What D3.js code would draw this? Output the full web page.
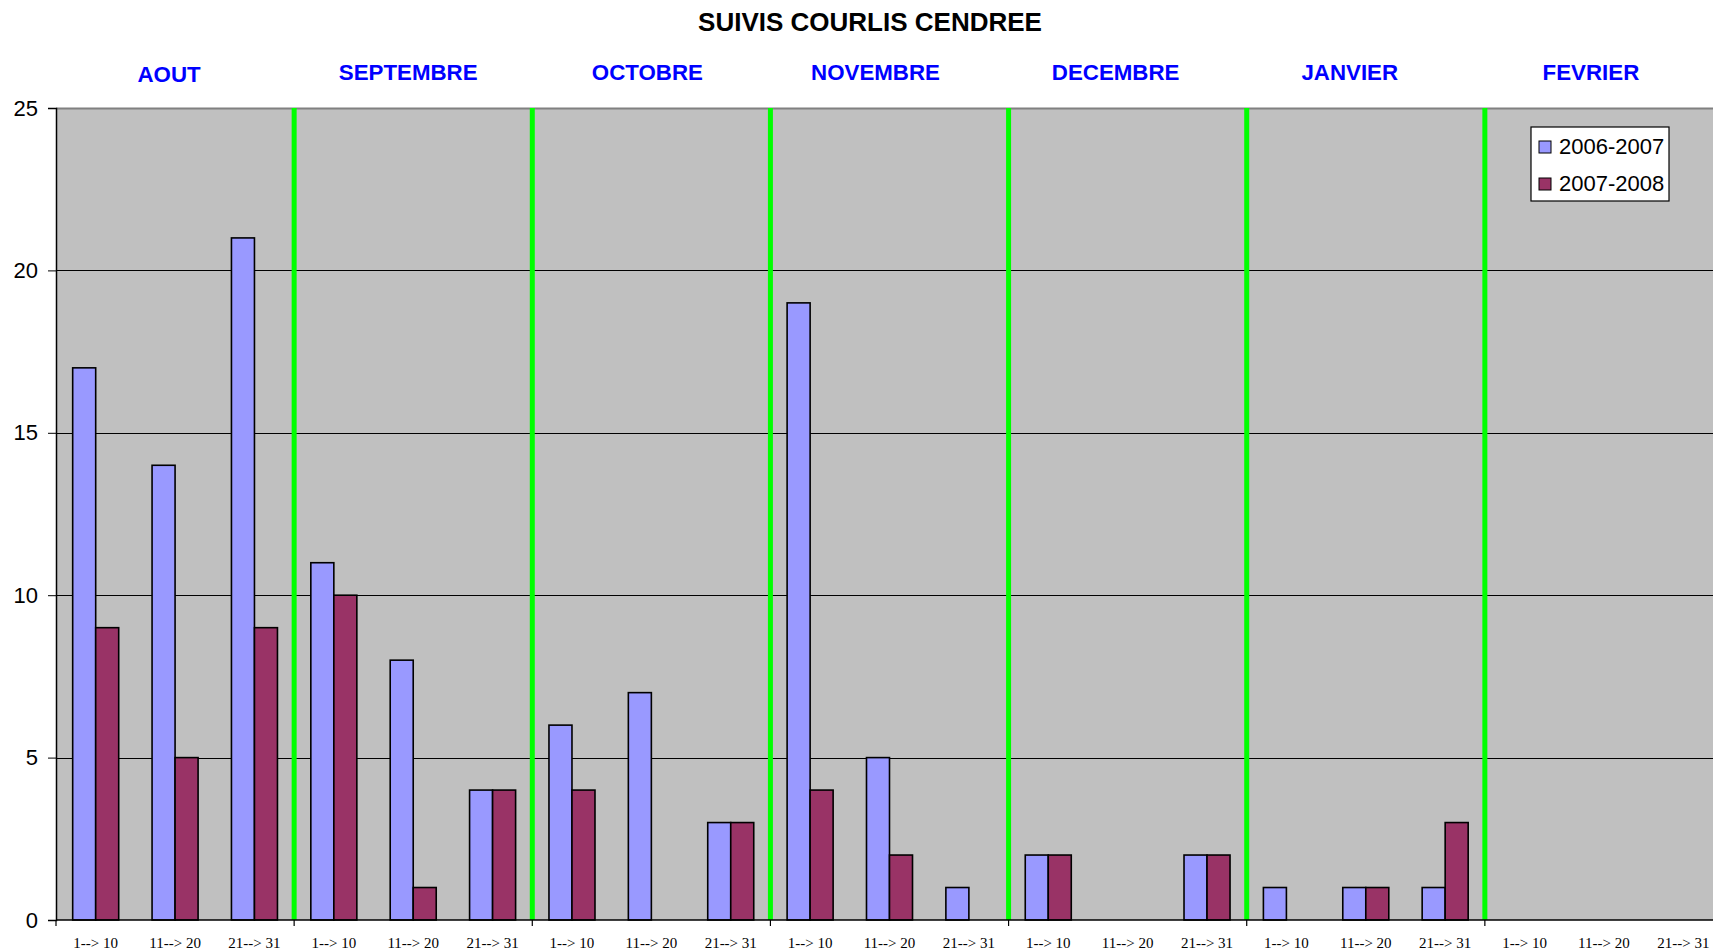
<!DOCTYPE html>
<html>
<head>
<meta charset="utf-8">
<script src="https://cdn.jsdelivr.net/npm/d3@7"></script>
<style>
  html, body { margin: 0; padding: 0; background: #ffffff; }
  svg { display: block; }
</style>
</head>
<body>
<svg id="chart" width="1713" height="951"></svg>
<script>
// ---- Data ----
const months = ["AOUT", "SEPTEMBRE", "OCTOBRE", "NOVEMBRE", "DECEMBRE", "JANVIER", "FEVRIER"];
const periods = ["1--> 10", "11--> 20", "21--> 31"];
const seriesNames = ["2006-2007", "2007-2008"];
const values2006 = [17, 14, 21, 11, 8, 4, 6, 7, 3, 19, 5, 1, 2, 0, 2, 1, 1, 1, 0, 0, 0];
const values2007 = [9, 5, 9, 10, 1, 4, 4, 0, 3, 4, 2, 0, 2, 0, 2, 0, 1, 3, 0, 0, 0];
const yTicks = [0, 5, 10, 15, 20, 25];
const colors = ["#9999FF", "#993366"];
const title = "SUIVIS COURLIS CENDREE";

// ---- Layout ----
const W = 1713, H = 951;
const plot = { left: 56, right: 1723, top: 108, bottom: 920 };
// horizontal nudge of each month header relative to its band centre (px)
const monthLabelNudge = [-6, -5, -4, -14, -12, -16, -13];

const svg = d3.select("#chart");

const categories = d3.range(months.length * periods.length);
const x = d3.scaleBand().domain(categories).range([plot.left, plot.right]).paddingInner(0).paddingOuter(0);
const xs = d3.scaleBand().domain(seriesNames).range([0, x.bandwidth()]).paddingInner(0).paddingOuter(0.725);
const y = d3.scaleLinear().domain([0, 25]).range([plot.bottom, plot.top]);

// Background
svg.append("rect")
  .attr("x", plot.left).attr("y", plot.top)
  .attr("width", plot.right - plot.left).attr("height", plot.bottom - plot.top)
  .attr("fill", "#C0C0C0");

// Gridlines
svg.append("g").selectAll("line").data(yTicks.filter(d => d > 0))
  .join("line")
  .attr("x1", plot.left).attr("x2", plot.right)
  .attr("y1", d => Math.round(y(d)) + 0.5).attr("y2", d => Math.round(y(d)) + 0.5)
  .attr("stroke", d => d === 25 ? "#808080" : "#000000")
  .attr("stroke-width", d => d === 25 ? 2 : 1);

// Month separators (green)
const monthBoundaries = d3.range(1, months.length);
svg.append("g").selectAll("line").data(monthBoundaries)
  .join("line")
  .attr("x1", d => x(d * periods.length)).attr("x2", d => x(d * periods.length))
  .attr("y1", plot.top).attr("y2", plot.bottom)
  .attr("stroke", "#00FF00").attr("stroke-width", 5);

// Bars
const barData = [];
categories.forEach(i => {
  barData.push({ i, s: seriesNames[0], v: values2006[i], c: colors[0] });
  barData.push({ i, s: seriesNames[1], v: values2007[i], c: colors[1] });
});
svg.append("g").selectAll("rect").data(barData.filter(d => d.v > 0))
  .join("rect")
  .attr("x", d => x(d.i) + xs(d.s))
  .attr("y", d => y(d.v))
  .attr("width", xs.bandwidth())
  .attr("height", d => y(0) - y(d.v))
  .attr("fill", d => d.c)
  .attr("stroke", "#000").attr("stroke-width", 1.6);

// Y axis
const yAxis = svg.append("g")
  .attr("transform", `translate(${plot.left},0)`)
  .call(d3.axisLeft(y).tickValues(yTicks).tickSize(8).tickPadding(10));
yAxis.select(".domain").attr("stroke", "#000").attr("stroke-width", 1.5);
yAxis.selectAll(".tick line").attr("stroke", "#000");
yAxis.selectAll(".tick text")
  .attr("font-family", "Liberation Sans, Arial, sans-serif")
  .attr("font-size", 22).attr("fill", "#000");

// X axis line
svg.append("line")
  .attr("x1", plot.left).attr("x2", plot.right)
  .attr("y1", plot.bottom).attr("y2", plot.bottom)
  .attr("stroke", "#000").attr("stroke-width", 1.5);

// X ticks at month boundaries
svg.append("g").selectAll("line").data(d3.range(0, months.length + 1))
  .join("line")
  .attr("x1", d => x(d * periods.length) ?? plot.right)
  .attr("x2", d => x(d * periods.length) ?? plot.right)
  .attr("y1", plot.bottom).attr("y2", plot.bottom + 6)
  .attr("stroke", "#000").attr("stroke-width", 1.2);

// X labels
svg.append("g").selectAll("text").data(categories)
  .join("text")
  .attr("x", d => x(d) + x.bandwidth() / 2)
  .attr("y", 948)
  .attr("text-anchor", "middle")
  .attr("font-family", "Liberation Serif, 'Times New Roman', serif")
  .attr("font-size", 15)
  .attr("fill", "#000")
  .text(d => periods[d % periods.length]);

// Month labels
svg.append("g").selectAll("text").data(months)
  .join("text")
  .attr("x", (d, i) => x(i * periods.length) + 1.5 * x.bandwidth() + monthLabelNudge[i])
  .attr("y", (d, i) => i === 0 ? 82 : 80)
  .attr("text-anchor", "middle")
  .attr("font-family", "Liberation Sans, Arial, sans-serif")
  .attr("font-weight", "bold")
  .attr("font-size", 22.3)
  .attr("fill", "#0000FF")
  .text(d => d);

// Title
svg.append("text")
  .attr("x", 870).attr("y", 31)
  .attr("text-anchor", "middle")
  .attr("font-family", "Liberation Sans, Arial, sans-serif")
  .attr("font-weight", "bold")
  .attr("font-size", 26)
  .attr("fill", "#000")
  .text(title);

// Legend
const lg = svg.append("g").attr("transform", "translate(1531,127)");
lg.append("rect").attr("width", 138).attr("height", 74)
  .attr("fill", "#fff").attr("stroke", "#000").attr("stroke-width", 1.2);
seriesNames.forEach((s, i) => {
  const row = lg.append("g").attr("transform", `translate(0,${i * 37})`);
  row.append("rect").attr("x", 8).attr("y", 14).attr("width", 12).attr("height", 12)
    .attr("fill", colors[i]).attr("stroke", "#000").attr("stroke-width", 1);
  row.append("text").attr("x", 28).attr("y", 27)
    .attr("font-family", "Liberation Sans, Arial, sans-serif")
    .attr("font-size", 22).attr("fill", "#000")
    .text(s);
});
</script>
</body>
</html>
